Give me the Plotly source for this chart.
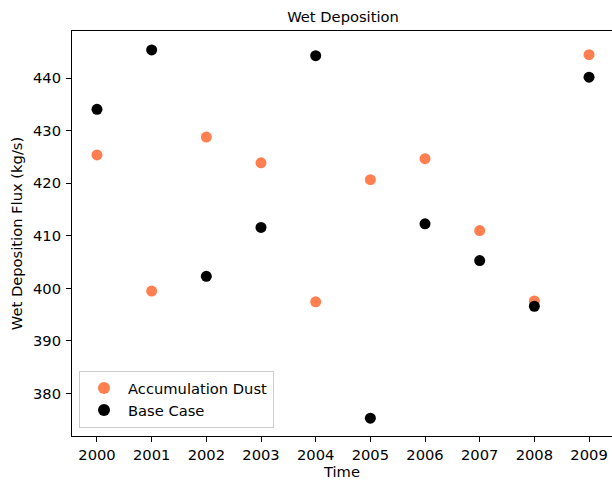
import plotly.graph_objects as go

years = [2000, 2001, 2002, 2003, 2004, 2005, 2006, 2007, 2008, 2009]
accum_dust = [425.4, 399.5, 428.8, 423.9, 397.45, 420.7, 424.7, 411.0, 397.6, 444.5]
base_case = [434.1, 445.4, 402.3, 411.6, 444.3, 375.3, 412.3, 405.3, 396.6, 440.2]
y_ticks = [380, 390, 400, 410, 420, 430, 440]

FONT = "DejaVu Sans"
FS = 14.7

fig = go.Figure()
fig.add_trace(go.Scatter(
    x=years, y=accum_dust, mode="markers", name="Accumulation Dust",
    marker=dict(color="#FF7F50", size=11, line=dict(width=0)),
))
fig.add_trace(go.Scatter(
    x=years, y=base_case, mode="markers", name="Base Case",
    marker=dict(color="#000000", size=11, line=dict(width=0)),
))

fig.update_layout(
    width=612, height=482,
    margin=dict(l=72, r=0, t=31, b=46),
    paper_bgcolor="white", plot_bgcolor="white",
    font=dict(family=FONT, size=FS, color="#000000"),
    title=dict(text="Wet Deposition", x=343 / 612, xanchor="center",
               y=1 - 17 / 482, yanchor="middle",
               font=dict(family=FONT, size=FS, color="#000000")),
    showlegend=True,
    legend=dict(x=0.013, y=0.02, xanchor="left", yanchor="bottom",
                bgcolor="rgba(255,255,255,0.8)", bordercolor="#cccccc",
                borderwidth=1, font=dict(family=FONT, size=FS),
                itemsizing="constant", itemwidth=38, tracegroupgap=0),
)

fig.update_xaxes(
    range=[1999.543, 2009.42],
    tickmode="array", tickvals=years, ticktext=[str(y) for y in years],
    ticks="outside", ticklen=5, tickwidth=1, tickcolor="#000000",
    showline=True, linecolor="#000000", linewidth=1, mirror=True,
    showgrid=False, zeroline=False,
    title=dict(text="Time", font=dict(family=FONT, size=FS), standoff=4),
)
fig.update_yaxes(
    range=[371.9, 449.0],
    tickmode="array", tickvals=y_ticks, ticktext=[str(v) for v in y_ticks],
    ticks="outside", ticklen=5, tickwidth=1, tickcolor="#000000",
    ticklabelstandoff=2,
    showline=True, linecolor="#000000", linewidth=1, mirror=False,
    showgrid=False, zeroline=False,
    title=dict(text="Wet Deposition Flux (kg/s)", font=dict(family=FONT, size=FS), standoff=6),
)

fig.write_html("out.html")
